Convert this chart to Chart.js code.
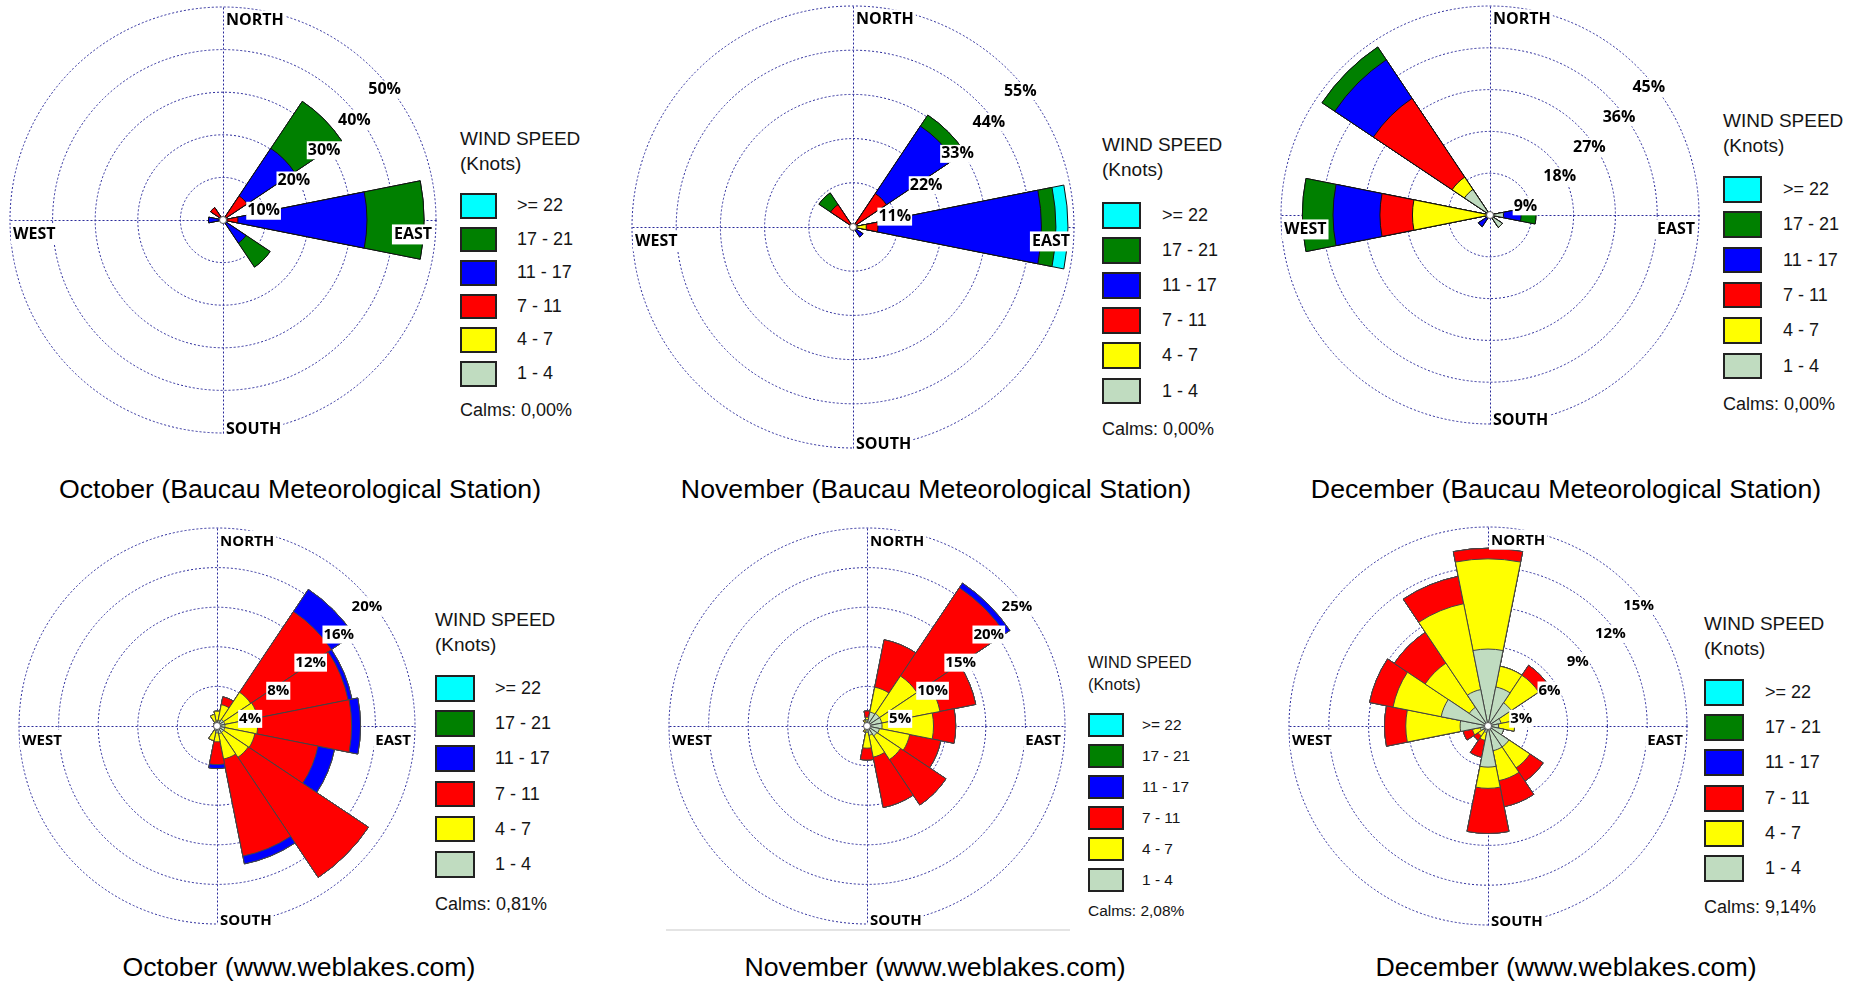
<!DOCTYPE html>
<html>
<head>
<meta charset="utf-8">
<script src="https://cdn.jsdelivr.net/npm/chart.js@4.4.1/dist/chart.umd.min.js"></script>
<style>
  body { margin: 0; background: #fff; width: 1861px; height: 985px; position: relative; overflow: hidden;
         font-family: "Liberation Sans", Arial, sans-serif; }
  .lg { position: absolute; color: #151515; white-space: pre; }
  .box { position: absolute; border: 2px solid #222; box-sizing: border-box; }
  .title { position: absolute; font-size: 26.7px; line-height: 1; color: #000; white-space: nowrap; transform: translateX(-50%); }
</style>
</head>
<body>
<script>
// wind roses, 16 directions, % of time per speed class

const directions = ['N', 'NNE', 'NE', 'ENE', 'E', 'ESE', 'SE', 'SSE', 'S', 'SSW', 'SW', 'WSW', 'W', 'WNW', 'NW', 'NNW'];
const speedClasses = ['1 - 4', '4 - 7', '7 - 11', '11 - 17', '17 - 21', '>= 22'];
const classColors = ['#c0dcc0', '#ffff00', '#ff0000', '#0000ff', '#008000', '#00ffff'];

// rows: 1-4, 4-7, 7-11, 11-17, 17-21, >=22 ; columns follow directions
const octBaucau = [
  [0, 0, 0, 0, 0, 0, 0, 0, 0, 0, 0, 0, 0, 0, 0, 0],
  [0, 0, 0, 0, 0, 0, 0, 0, 0, 0, 0, 0, 0, 0, 0, 0],
  [0, 0, 6.8, 0, 3.5, 0, 0, 0, 0, 0, 0, 0, 0, 0, 3.5, 0],
  [0, 0, 13.4, 0, 30.3, 0, 6.5, 0, 0, 0, 0, 0, 3.4, 0, 0, 0],
  [0, 0, 13.3, 0, 13.4, 0, 6.8, 0, 0, 0, 0, 0, 0, 0, 0, 0],
  [0, 0, 0, 0, 0, 0, 0, 0, 0, 0, 0, 0, 0, 0, 0, 0]
];
const novBaucau = [
  [0, 0, 0, 0, 0, 0, 0, 0, 0, 0, 0, 0, 0, 0, 0, 0],
  [0, 0, 0, 0, 3.3, 0, 0, 0, 0, 0, 0, 0, 0, 0, 0, 0],
  [0, 0, 10.0, 0, 2.9, 0, 0, 0, 0, 0, 0, 0, 0, 0, 6.7, 0],
  [0, 0, 20.2, 0, 40.7, 0, 3.0, 0, 0, 0, 0, 0, 0, 0, 0, 0],
  [0, 0, 3.3, 0, 3.6, 0, 0, 0, 0, 0, 0, 0, 0, 0, 3.5, 0],
  [0, 0, 0, 0, 3.0, 0, 0, 0, 0, 0, 0, 0, 0, 0, 0, 0]
];
const decBaucau = [
  [0, 0, 0, 0, 2.9, 0, 3.2, 0, 0, 0, 0, 0, 0, 0, 6.6, 0],
  [0, 0, 0, 0, 0, 0, 0, 0, 0, 0, 0, 0, 16.7, 0, 3.2, 0],
  [0, 0, 0, 0, 0, 0, 0, 0, 0, 0, 0, 0, 7.0, 0, 20.4, 0],
  [0, 0, 0, 0, 3.8, 0, 0, 0, 0, 0, 3.0, 0, 10.1, 0, 10.0, 0],
  [0, 0, 0, 0, 3.2, 0, 0, 0, 0, 0, 0, 0, 6.6, 0, 3.3, 0],
  [0, 0, 0, 0, 0, 0, 0, 0, 0, 0, 0, 0, 0, 0, 0, 0]
];
const octWeblakes = [
  [0.5, 0.6, 0.8, 0.8, 0.8, 0.8, 0.8, 0.8, 0.7, 0.5, 0.3, 0.3, 0.3, 0.3, 0.4, 0.4],
  [1.0, 1.6, 3.3, 3.4, 3.3, 3.1, 3.0, 2.6, 0.9, 1.0, 0, 0, 0, 0, 0, 0.8],
  [0, 0.8, 9.8, 9.3, 9.5, 6.5, 14.6, 10.0, 2.3, 0, 0, 0, 0, 0, 0, 0],
  [0, 0, 2.7, 0.4, 0.9, 1.7, 0, 0.8, 0.4, 0, 0, 0, 0, 0, 0, 0],
  [0, 0, 0, 0, 0, 0, 0, 0, 0, 0, 0, 0, 0, 0, 0, 0],
  [0, 0, 0, 0, 0, 0, 0, 0, 0, 0, 0, 0, 0, 0, 0, 0]
];
const novWeblakes = [
  [0.8, 1.8, 1.9, 1.9, 1.9, 1.6, 1.5, 1.2, 0.8, 0.4, 0.3, 0.3, 0.3, 0.3, 0.3, 0.4],
  [0.3, 3.2, 5.7, 7.5, 6.5, 3.9, 3.6, 2.8, 2.0, 0.4, 0, 0, 0, 0, 0, 0.4],
  [0.8, 6.1, 13.4, 4.6, 2.8, 4.0, 6.9, 6.5, 1.5, 0, 0, 0, 0, 0, 0, 0],
  [0, 0, 0.7, 0, 0, 0, 0, 0, 0, 0, 0, 0, 0, 0, 0, 0],
  [0, 0, 0, 0, 0, 0, 0, 0, 0, 0, 0, 0, 0, 0, 0, 0],
  [0, 0, 0, 0, 0, 0, 0, 0, 0, 0, 0, 0, 0, 0, 0, 0]
];
const decWeblakes = [
  [5.8, 3.0, 2.1, 1.0, 0.8, 1.2, 1.9, 1.9, 3.1, 0.5, 0.4, 0.6, 2.1, 3.6, 1.7, 2.8],
  [6.8, 1.6, 2.5, 1.1, 1.2, 0, 1.9, 2.3, 1.6, 0.6, 0.5, 0.6, 4.1, 3.7, 4.0, 6.6],
  [0.8, 0, 0.9, 0, 0, 0, 1.2, 2.0, 3.4, 1.3, 0.4, 0.7, 1.6, 1.8, 2.8, 2.1],
  [0, 0, 0, 0, 0, 0, 0, 0, 0, 0, 0, 0, 0, 0, 0, 0],
  [0, 0, 0, 0, 0, 0, 0, 0, 0, 0, 0, 0, 0, 0, 0, 0],
  [0, 0, 0, 0, 0, 0, 0, 0, 0, 0, 0, 0, 0, 0, 0, 0]
];

const roses = [octBaucau, novBaucau, decBaucau, octWeblakes, novWeblakes, decWeblakes];
const ringSteps = [10, 11, 9, 4, 5, 3];
const calms = ['0,00%', '0,00%', '0,00%', '0,81%', '2,08%', '9,14%'];
const titles = [
  'October (Baucau Meteorological Station)',
  'November (Baucau Meteorological Station)',
  'December (Baucau Meteorological Station)',
  'October (www.weblakes.com)',
  'November (www.weblakes.com)',
  'December (www.weblakes.com)'
];

// where each rose / legend / caption sits on the page
const frames = [
  { cx: 223, cy: 220, R: 213, fs: 16, edge: '#111', tx: 300, ty: 489,
    lg: { x: 460, cap: 131, box: 193, pitch: 33.6, bw: 37, bh: 25.5, lx: 517, calms: 403, k: 1 } },
  { cx: 853, cy: 227, R: 221, fs: 16, edge: '#111', tx: 936, ty: 489,
    lg: { x: 1102, cap: 137, box: 202, pitch: 35.1, bw: 39, bh: 26.5, lx: 1162, calms: 422, k: 1 } },
  { cx: 1490, cy: 215, R: 209, fs: 16, edge: '#111', tx: 1566, ty: 489,
    lg: { x: 1723, cap: 113, box: 176, pitch: 35.3, bw: 39, bh: 26.5, lx: 1783, calms: 397, k: 1 } },
  { cx: 217, cy: 726, R: 198, fs: 15, edge: '#444', tx: 299, ty: 967,
    lg: { x: 435, cap: 612, box: 675, pitch: 35.2, bw: 40, bh: 26.5, lx: 495, calms: 897, k: 1 } },
  { cx: 867, cy: 726, R: 198, fs: 15, edge: '#444', tx: 935, ty: 967,
    lg: { x: 1088, cap: 657, box: 713, pitch: 31, bw: 36, bh: 23.5, lx: 1142, calms: 905, k: 0.86 } },
  { cx: 1488, cy: 726, R: 199, fs: 15, edge: '#444', tx: 1566, ty: 967,
    lg: { x: 1704, cap: 616, box: 679, pitch: 35.2, bw: 40, bh: 27, lx: 1765, calms: 900, k: 1 } }
];

const ringColor = '#2a2a9a';

// running totals so the overlapped arcs look stacked
function cumulative(rows) {
  let run = rows[0].map(() => 0);
  return rows.map(row => {
    run = run.map((v, i) => +(v + row[i]).toFixed(2));
    return run;
  });
}

function boxedText(ctx, text, x, y, align) {
  const w = ctx.measureText(text).width;
  const left = align === 'right' ? x - w : x;
  ctx.fillStyle = '#fff';
  ctx.fillRect(left - 2, y - 15, w + 4, 20);
  ctx.fillStyle = '#000';
  ctx.textAlign = 'left';
  ctx.fillText(text, left, y);
}

const roseDecor = {
  id: 'roseDecor',
  beforeDatasetsDraw(chart) {
    const s = chart.scales.r, ctx = chart.ctx;
    const cx = s.xCenter + 0.5, cy = s.yCenter + 0.5, R = s.drawingArea;
    ctx.save();
    ctx.strokeStyle = ringColor;
    ctx.lineWidth = 1;
    ctx.setLineDash([2, 2]);
    ctx.beginPath();
    ctx.moveTo(cx, cy - R); ctx.lineTo(cx, cy + R);
    ctx.moveTo(cx - R, cy); ctx.lineTo(cx + R, cy);
    ctx.stroke();
    ctx.restore();
  },
  afterDatasetsDraw(chart, args, opts) {
    const s = chart.scales.r, ctx = chart.ctx;
    const cx = s.xCenter, cy = s.yCenter, R = s.drawingArea;
    const fs = opts.fs;
    ctx.save();
    // hub
    ctx.beginPath();
    ctx.arc(cx, cy, 3.5, 0, Math.PI * 2);
    ctx.fillStyle = '#fff';
    ctx.fill();
    ctx.strokeStyle = '#555';
    ctx.lineWidth = 1;
    ctx.stroke();

    ctx.font = `bold ${fs}px "Open Sans", "DejaVu Sans", sans-serif`;
    ctx.textBaseline = 'middle';
    s.ticks.forEach(t => {
      if (t.value <= 0) return;
      const r = s.getDistanceFromCenterForValue(t.value);
      const label = t.value + '%';
      const x = cx + 0.71 * r - 6;
      const y = cy - 0.71 * r + 21;
      const w = ctx.measureText(label).width;
      ctx.fillStyle = '#fff';
      ctx.fillRect(x - 1, y - 9, w + 2, 18);
      ctx.fillStyle = '#000';
      ctx.fillText(label, x, y);
    });

    ctx.textBaseline = 'alphabetic';
    const cap = fs * 0.714;
    boxedText(ctx, 'NORTH', cx + 3, cy - R + 7 + cap, 'left');
    boxedText(ctx, 'SOUTH', cx + 3, cy + R - 10 + cap, 'left');
    boxedText(ctx, 'EAST', cx + R - 4, cy + 8 + cap, 'right');
    boxedText(ctx, 'WEST', cx - R + 3, cy + 8 + cap, 'left');
    ctx.restore();
  }
};

function addDiv(cls, text, css) {
  const d = document.createElement('div');
  d.className = cls;
  d.textContent = text;
  d.style.cssText = css;
  document.body.appendChild(d);
  return d;
}

frames.forEach((f, n) => {
  const pad = 6;
  const size = 2 * f.R + 2 * pad;
  const cv = document.createElement('canvas');
  cv.width = size;
  cv.height = size;
  cv.style.cssText = `position:absolute;left:${f.cx - f.R - pad}px;top:${f.cy - f.R - pad}px;width:${size}px;height:${size}px`;
  document.body.appendChild(cv);

  const stacked = cumulative(roses[n]);

  new Chart(cv, {
    type: 'polarArea',
    data: {
      labels: directions,
      datasets: speedClasses.map((name, i) => ({
        label: name,
        data: stacked[i],
        backgroundColor: classColors[i],
        borderColor: f.edge,
        borderWidth: c => (c.raw > 0 ? 1 : 0)
      }))
    },
    options: {
      responsive: false,
      animation: false,
      events: [],
      layout: { padding: pad },
      plugins: {
        legend: { display: false },
        tooltip: { enabled: false },
        roseDecor: { fs: f.fs }
      },
      scales: {
        r: {
          min: 0,
          max: ringSteps[n] * 5,
          startAngle: -11.25,
          ticks: { display: false, stepSize: ringSteps[n] },
          grid: { circular: true, color: ringColor, lineWidth: 1 },
          border: { dash: [2, 2] },
          angleLines: { display: false },
          pointLabels: { display: false }
        }
      }
    },
    plugins: [roseDecor]
  });

  // legend
  const g = f.lg, k = g.k;
  const tf = 19 * k, tl = 25 * k;
  addDiv('lg', 'WIND SPEED\n(Knots)',
    `left:${g.x}px;top:${g.cap - (tl / 2 - 0.37 * tf)}px;font-size:${tf}px;line-height:${tl}px`);
  for (let j = 0; j < speedClasses.length; j++) {
    const ci = speedClasses.length - 1 - j;
    const top = g.box + j * g.pitch;
    addDiv('box', '', `left:${g.x}px;top:${top}px;width:${g.bw}px;height:${g.bh}px;background:${classColors[ci]}`);
    addDiv('lg', speedClasses[ci],
      `left:${g.lx}px;top:${top}px;height:${g.bh}px;line-height:${g.bh}px;font-size:${18 * k}px`);
  }
  const cf = 18 * k;
  addDiv('lg', 'Calms: ' + calms[n], `left:${g.x}px;top:${g.calms - 0.13 * cf}px;font-size:${cf}px;line-height:1`);

  addDiv('title', titles[n], `left:${f.tx}px;top:${f.ty - 13}px`);
});

// faint frame line under the middle weblakes rose
addDiv('', '', 'position:absolute;left:666px;top:929px;width:404px;height:2px;background:#e4e4e4');
</script>
</body>
</html>
